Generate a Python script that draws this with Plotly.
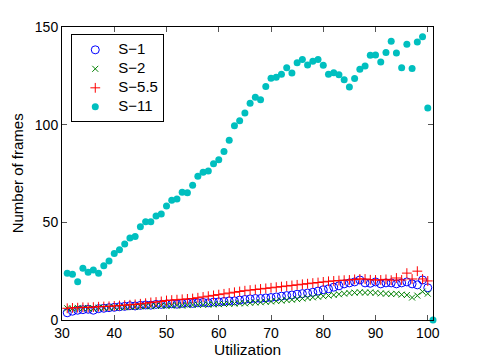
import plotly.graph_objects as go

utilization = list(range(31, 101))

s1 = [3.7, 4.5, 5.0, 5.3, 5.5, 5.0, 5.8, 6.0, 6.3, 6.5,
      6.8, 7.0, 7.3, 7.2, 7.5, 7.7, 7.6, 8.0, 8.0, 8.2,
      8.3, 8.1, 8.5, 8.7, 8.5, 8.8, 9.0, 8.8, 9.2, 9.3,
      9.5, 9.8, 9.8, 10.2, 10.5, 10.8, 11.0, 11.0, 11.3, 11.5,
      11.8, 12.2, 12.5, 12.8, 13.2, 13.5, 13.8, 14.2, 14.8, 15.5,
      16.0, 16.8, 17.5, 18.5, 19.0, 19.5, 20.5, 19.0, 18.8, 19.5,
      18.5, 19.0, 19.0, 18.5, 19.0, 19.5, 18.5, 18.0, 20.5, 16.5]

s2 = [6.0, 5.8, 6.2, 6.0, 6.1, 5.9, 6.3, 6.2, 6.4, 6.5,
      6.6, 6.5, 6.8, 6.7, 7.0, 7.1, 7.0, 7.2, 7.3, 7.2,
      7.4, 7.5, 7.4, 7.6, 7.7, 7.8, 7.8, 7.9, 8.0, 8.1,
      8.2, 8.3, 8.4, 8.6, 8.5, 8.8, 9.0, 9.1, 9.3, 9.5,
      9.7, 9.9, 10.2, 10.4, 10.7, 11.0, 11.3, 11.6, 11.9, 12.2,
      12.5, 12.8, 13.2, 13.5, 13.8, 14.0, 14.2, 14.0, 14.1, 13.9,
      13.6, 13.5, 13.3, 13.4, 13.0, 12.8, 11.5, 12.5, 14.5, 13.5]

s55 = [6.0, 6.2, 6.3, 6.5, 6.4, 6.6, 6.8, 6.9, 7.0, 7.2,
       7.4, 7.6, 7.8, 8.0, 8.3, 8.6, 9.0, 9.2, 9.5, 10.0,
       10.2, 10.4, 10.6, 10.8, 11.0, 11.4, 11.8, 12.2, 12.6, 13.0,
       13.4, 13.8, 14.2, 14.6, 15.0, 15.3, 15.6, 15.9, 16.2, 16.5,
       16.8, 17.1, 17.4, 17.7, 18.0, 18.3, 18.6, 18.9, 19.2, 19.5,
       19.8, 20.0, 20.2, 20.4, 20.5, 20.8, 21.0, 21.0, 20.6, 20.5,
       20.5, 20.8, 20.4, 21.5, 20.5, 24.0, 21.0, 25.0, 21.0, 20.0]

s11 = [23.9, 23.4, 19.6, 26.5, 24.4, 25.6, 23.9, 27.8, 30.2, 34.1,
       36.0, 38.9, 42.0, 42.8, 47.8, 50.3, 50.3, 53.2, 54.3, 58.4,
       61.3, 62.0, 65.4, 65.2, 69.0, 73.6, 75.6, 76.3, 80.0, 82.0,
       86.2, 92.0, 99.5, 102.0, 106.0, 111.0, 114.0, 112.8, 119.5, 123.7,
       124.3, 125.8, 129.2, 126.5, 131.7, 133.3, 130.6, 132.5, 133.3, 130.4,
       125.8, 126.6, 125.6, 123.0, 119.3, 123.6, 128.4, 130.0, 135.5, 135.7,
       132.1, 136.9, 142.7, 136.7, 129.2, 141.2, 128.7, 142.3, 145.0, 108.5]
s11_x = utilization + [101]
s11_y = s11 + [0]

x_ticks = [30, 40, 50, 60, 70, 80, 90, 100]
y_ticks = [0, 50, 100, 150]

FONT = "Liberation Sans, Arial, Helvetica, sans-serif"


def leg(name):
    return '<span style="font-size:15px">' + name + '</span>'


fig = go.Figure()
fig.add_trace(go.Scatter(x=utilization, y=s1, mode="markers", name=leg("S\u22121"),
                         marker=dict(symbol="circle-open", size=8, color="#0000ff",
                                     line=dict(width=1, color="#0000ff"))))
fig.add_trace(go.Scatter(x=utilization, y=s2, mode="markers", name=leg("S\u22122"),
                         marker=dict(symbol="x-thin-open", size=6, color="#008000",
                                     line=dict(width=1, color="#008000"))))
fig.add_trace(go.Scatter(x=utilization, y=s55, mode="markers", name=leg("S\u22125.5"),
                         marker=dict(symbol="cross-thin-open", size=7, color="#ff0000",
                                     line=dict(width=1, color="#ff0000"))))
fig.add_trace(go.Scatter(x=s11_x, y=s11_y, mode="markers", name=leg("S\u221211"),
                         cliponaxis=False,
                         marker=dict(symbol="circle", size=7, color="#00bfbf",
                                     line=dict(width=0))))

axis_common = dict(showline=True, linecolor="black", linewidth=1, mirror="ticks",
                   ticks="inside", ticklen=5, tickcolor="#555555", showgrid=False,
                   zeroline=False, automargin=False,
                   tickfont=dict(size=14, color="black", family=FONT))

# page body has an 8px margin, so the figure is sized/offset to compensate
fig.update_layout(
    width=471, height=352,
    paper_bgcolor="white", plot_bgcolor="white",
    margin=dict(l=54, r=46, t=19, b=40),
    font=dict(family=FONT, size=14, color="black"),
    showlegend=True,
    legend=dict(x=0.025, y=0.975, xanchor="left", yanchor="top",
                bordercolor="black", borderwidth=1, bgcolor="white",
                font=dict(size=11.5, family=FONT), tracegroupgap=0,
                itemsizing="trace", itemwidth=36),
    xaxis=dict(range=[30, 101], tickvals=x_ticks, ticklabelstandoff=0, **axis_common),
    yaxis=dict(range=[0, 150], tickvals=y_ticks, **axis_common),
    annotations=[
        dict(text="Utilization", xref="paper", yref="paper", x=0.5, y=-0.102,
             xanchor="center", yanchor="middle", showarrow=False,
             font=dict(size=15.5, family=FONT)),
        dict(text="Number of frames", xref="paper", yref="paper", x=-0.119, y=0.5,
             xanchor="center", yanchor="middle", textangle=-90, showarrow=False,
             font=dict(size=15, family=FONT)),
    ],
)

fig.write_html("out.html")
